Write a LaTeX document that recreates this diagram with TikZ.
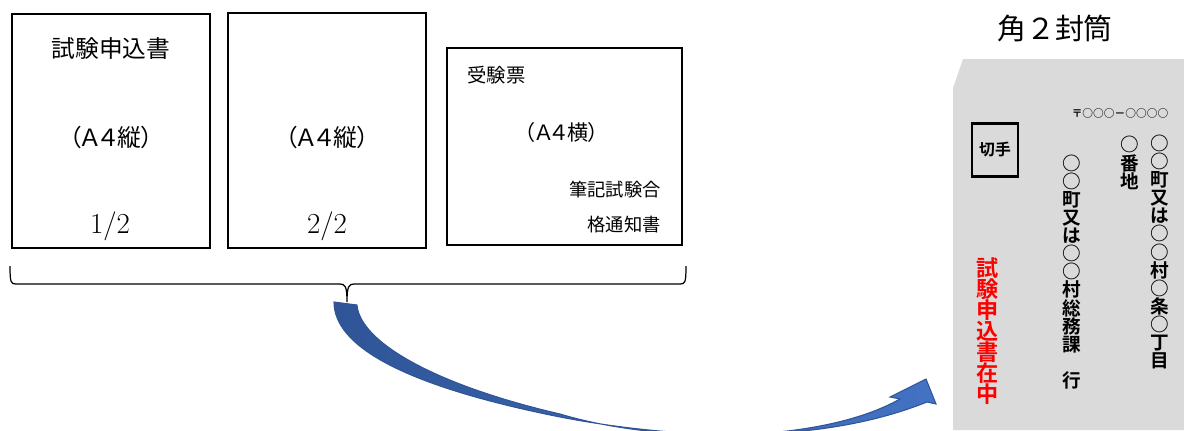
\documentclass[tikz,border=0pt]{standalone}
\usepackage{fontspec}
\newfontfamily\jp[BoldFont={* Bold}]{Noto Sans CJK JP}
\newfontfamily\jpp[RawFeature=+palt]{Noto Sans CJK JP}
\definecolor{arrowdark}{RGB}{47,85,151}
\definecolor{arrowlight}{RGB}{68,114,196}
\definecolor{envgray}{RGB}{218,218,218}
\tikzset{
  pagebox/.style={draw=black, line width=1.4pt},
  jptext/.style={inner sep=0pt, font=\jp\fontsize{#1}{#1}\selectfont},
  vcol/.style={inner sep=0pt, align=center, font=\jp\bfseries\fontsize{10.6}{10.3}\selectfont},
}
\begin{document}
\begin{tikzpicture}[x=0.02cm, y=-0.02cm]
\useasboundingbox (0,0) rectangle (1184,430);
\begin{scope}
\clip (0,0) rectangle (1184,430);
% envelope
\fill[envgray] (963,59) -- (1184,59) -- (1184,430) -- (953,430) -- (953,88) -- cycle;
% pages
\draw[pagebox] (12,14) rectangle (210,248);
\draw[pagebox] (228,13) rectangle (426,248);
\draw[pagebox] (447,48) rectangle (682,245);
\node[jptext=13.5] (t1) at (111,48) {試験申込書};
\node[inner sep=0pt, font=\jpp\fontsize{13.5}{16}\selectfont] (s1) at (111,137) {（Ａ４縦）};
\node[inner sep=0pt, font=\fontsize{16.5}{18}\selectfont] (n1) at (110,226) {1/2};
\node[inner sep=0pt, font=\jpp\fontsize{13.5}{16}\selectfont] (s2) at (327,137) {（Ａ４縦）};
\node[inner sep=0pt, font=\fontsize{16.5}{18}\selectfont] (n2) at (327,226) {2/2};
\node[jptext=11, anchor=west] (t3) at (467,75) {受験票};
\node[inner sep=0pt, font=\jpp\fontsize{12}{16}\selectfont] (s3) at (562,132) {（Ａ４横）};
\node[inner sep=0pt, anchor=east, align=right, font=\jp\fontsize{10.4}{19.8}\selectfont] (t4) at (661,207) {筆記試験合\\格通知書};
% brace
\coordinate (bl) at (10,266);
\coordinate (br) at (686,266);
\coordinate (btip) at (347,302);
\draw[line width=0.7pt] (bl) .. controls (10,283) and (11,284) .. (16,284) -- (340,284)
  .. controls (345,284) and (347,286) .. (btip)
  .. controls (347,286) and (349,284) .. (354,284) -- (680,284)
  .. controls (685,284) and (686,283) .. (br);
% curved arrow
\shade[left color=arrowdark, right color=arrowlight, draw=arrowdark, line width=0.6pt]
  (334,302) -- (357,305)
  .. controls (360,342) and (435,385) .. (560,414)
  .. controls (660,444) and (820,444) .. (900,399)
  -- (890,397) -- (926,379) -- (936,404) -- (927,402)
  .. controls (820,445) and (680,440) .. (560,417)
  .. controls (400,385) and (334,345) .. (334,302) -- cycle;
\end{scope}
% envelope texts
\node[jptext=16.5] (title) at (1055,28) {角２封筒};
\node[draw=black, line width=1.2pt, minimum width=0.92cm, minimum height=1.06cm, inner sep=0pt,
      font=\jp\bfseries\fontsize{9}{9}\selectfont] (stamp) at (995,150) {切手};
\node[inner sep=0pt, font=\jp\bfseries\fontsize{6.1}{7}\selectfont] (zip) at (1120,113) {〒○○○－○○○○};
\node[vcol] (c1) at (1160,252) {○\\○\\町\\又\\は\\○\\○\\村\\○\\条\\○\\丁\\目};
\node[vcol] (c2) at (1130,163) {○\\番\\地};
\node[vcol] (c3) at (1072,272) {○\\○\\町\\又\\は\\○\\○\\村\\総\\務\\課\\　\\行};
\node[inner sep=0pt, align=center, text=red, font=\jp\bfseries\fontsize{12.6}{11.9}\selectfont] (c4) at (988,331) {試\\験\\申\\込\\書\\在\\中};
\end{tikzpicture}
\end{document}
